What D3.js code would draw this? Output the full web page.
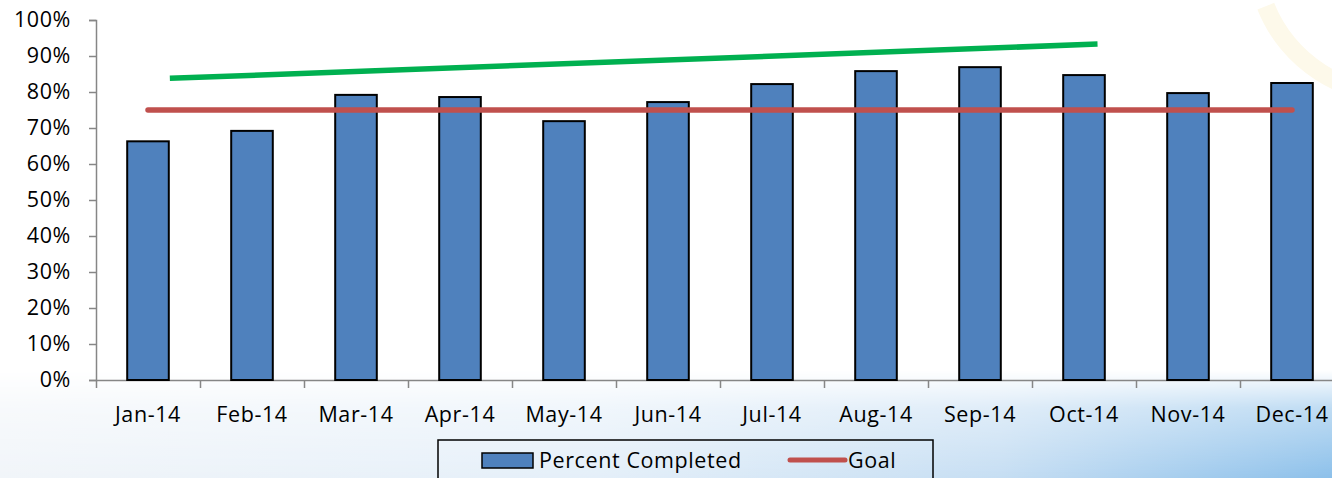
<!DOCTYPE html>
<html>
<head>
<meta charset="utf-8">
<script src="https://cdn.jsdelivr.net/npm/d3@7"></script>
<style>
  html, body { margin: 0; padding: 0; background: #fff; }
  svg { display: block; font-family: "Open Sans", sans-serif; }
</style>
</head>
<body>
<div id="chart"></div>
<script>
// chart data
const months = ['Jan-14', 'Feb-14', 'Mar-14', 'Apr-14', 'May-14', 'Jun-14',
  'Jul-14', 'Aug-14', 'Sep-14', 'Oct-14', 'Nov-14', 'Dec-14'];
const percentCompleted = [66.3, 69.2, 79.2, 78.6, 71.9, 77.2, 82.2, 85.8, 86.9, 84.7, 79.7, 82.5];
const goal = [75, 75, 75, 75, 75, 75, 75, 75, 75, 75, 75, 75];
// hand-drawn trend arrow (month index position, percent)
const trendPos = [0.21, 9.13];
const trendVal = [83.8, 93.3];
const yTicks = [0, 10, 20, 30, 40, 50, 60, 70, 80, 90, 100];

const W = 1332, H = 478;
const margin = { top: 20, left: 96, bottom: 98 };
const plotW = 1248; // runs past the right edge like the original
const plotH = H - margin.top - margin.bottom;
const fontSize = 21.5;
const spacing = 0.6;

const svg = d3.select('#chart').append('svg')
  .attr('width', W)
  .attr('height', H);

// Background: blue wash along the bottom, stronger to the right
const defs = svg.append('defs');
const hGrad = defs.append('linearGradient')
  .attr('id', 'bgH')
  .attr('x1', 0).attr('y1', 0).attr('x2', 1).attr('y2', 0);
hGrad.append('stop').attr('offset', 0).attr('stop-color', '#f1f5f9');
hGrad.append('stop').attr('offset', 0.45).attr('stop-color', '#e4eff9');
hGrad.append('stop').attr('offset', 0.75).attr('stop-color', '#c6def3');
hGrad.append('stop').attr('offset', 1).attr('stop-color', '#8cc0ea');

const vGrad = defs.append('linearGradient')
  .attr('id', 'bgV')
  .attr('x1', 0).attr('y1', 0).attr('x2', 0).attr('y2', 1);
vGrad.append('stop').attr('offset', 0).attr('stop-color', '#fff').attr('stop-opacity', 0);
vGrad.append('stop').attr('offset', 0.35).attr('stop-color', '#fff').attr('stop-opacity', 0.55);
vGrad.append('stop').attr('offset', 1).attr('stop-color', '#fff').attr('stop-opacity', 1);

defs.append('mask')
  .attr('id', 'fade')
  .append('rect')
  .attr('x', 0).attr('y', 370)
  .attr('width', W).attr('height', H - 370)
  .attr('fill', 'url(#bgV)');

svg.append('rect').attr('width', W).attr('height', H).attr('fill', '#fff');
svg.append('rect')
  .attr('y', 370)
  .attr('width', W)
  .attr('height', H - 370)
  .attr('fill', 'url(#bgH)')
  .attr('mask', 'url(#fade)');

// faint watermark arc, top right
svg.append('path')
  .attr('d', d3.arc()({ innerRadius: 130, outerRadius: 148, startAngle: -Math.PI * 0.62, endAngle: -Math.PI * 1.02 }))
  .attr('transform', 'translate(1395,-45)')
  .attr('fill', '#fdf9ea');

const g = svg.append('g')
  .attr('transform', `translate(${margin.left},${margin.top})`);

// Scales
const x = d3.scaleBand().domain(months).range([0, plotW]);
const xPos = d3.scaleLinear().domain([0, 12]).range([0, plotW]);
const y = d3.scaleLinear().domain([0, 100]).range([plotH, 0]);
const barW = x.bandwidth() * 0.40;

// Y axis
const yAxis = g.append('g')
  .call(d3.axisLeft(y).tickValues(yTicks).tickSize(7).tickPadding(18).tickFormat(d => d + '%'));
yAxis.select('.domain').attr('stroke', '#868686').attr('stroke-width', 1.5);
yAxis.selectAll('.tick line').attr('stroke', '#868686').attr('stroke-width', 1.5);
yAxis.selectAll('.tick text')
  .attr('font-size', fontSize)
  .attr('letter-spacing', spacing)
  .attr('fill', '#000')
  .attr('font-family', '"Open Sans", sans-serif');

// X axis
const xAxis = g.append('g')
  .attr('transform', `translate(0,${plotH})`)
  .call(d3.axisBottom(xPos).tickValues(d3.range(0, 13)).tickSize(8).tickSizeOuter(0).tickFormat(''));
xAxis.select('.domain').attr('stroke', '#868686').attr('stroke-width', 1.5);
xAxis.selectAll('.tick line').attr('stroke', '#868686').attr('stroke-width', 1.5);

g.append('g')
  .selectAll('text')
  .data(months)
  .enter()
  .append('text')
  .attr('x', d => x(d) + x.bandwidth() / 2)
  .attr('y', plotH + 42)
  .attr('text-anchor', 'middle')
  .attr('font-size', fontSize)
  .attr('letter-spacing', spacing)
  .attr('fill', '#000')
  .text(d => d);

// Bars
g.append('g')
  .selectAll('rect')
  .data(percentCompleted)
  .enter()
  .append('rect')
  .attr('x', (d, i) => x(months[i]) + (x.bandwidth() - barW) / 2)
  .attr('y', d => y(d))
  .attr('width', barW)
  .attr('height', d => plotH - y(d))
  .attr('fill', '#4f81bd')
  .attr('stroke', '#000')
  .attr('stroke-width', 2);

// Goal line
const goalLine = d3.line()
  .x((d, i) => x(months[i]) + x.bandwidth() / 2)
  .y(d => y(d));

g.append('path')
  .datum(goal)
  .attr('fill', 'none')
  .attr('stroke', '#c0504d')
  .attr('stroke-width', 5.5)
  .attr('stroke-linecap', 'round')
  .attr('d', goalLine);

// Green trend stroke
g.append('path')
  .datum(trendPos.map((p, i) => [p, trendVal[i]]))
  .attr('fill', 'none')
  .attr('stroke', '#00b050')
  .attr('stroke-width', 5.5)
  .attr('d', d3.line().x(d => xPos(d[0] + 0.5)).y(d => y(d[1])));

// Legend
const legend = svg.append('g').attr('transform', 'translate(438,440)');
legend.append('rect')
  .attr('width', 495)
  .attr('height', 50)
  .attr('fill', 'none')
  .attr('stroke', '#000')
  .attr('stroke-width', 1.5);
legend.append('rect')
  .attr('x', 44).attr('y', 13)
  .attr('width', 51).attr('height', 15)
  .attr('fill', '#4f81bd')
  .attr('stroke', '#000')
  .attr('stroke-width', 1.5);
legend.append('text')
  .attr('x', 101).attr('y', 28)
  .attr('font-size', fontSize)
  .attr('letter-spacing', spacing)
  .text('Percent Completed');
legend.append('line')
  .attr('x1', 352).attr('x2', 407)
  .attr('y1', 20).attr('y2', 20)
  .attr('stroke', '#c0504d')
  .attr('stroke-width', 5)
  .attr('stroke-linecap', 'round');
legend.append('text')
  .attr('x', 410).attr('y', 28)
  .attr('font-size', fontSize)
  .attr('letter-spacing', spacing)
  .text('Goal');
</script>
</body>
</html>
